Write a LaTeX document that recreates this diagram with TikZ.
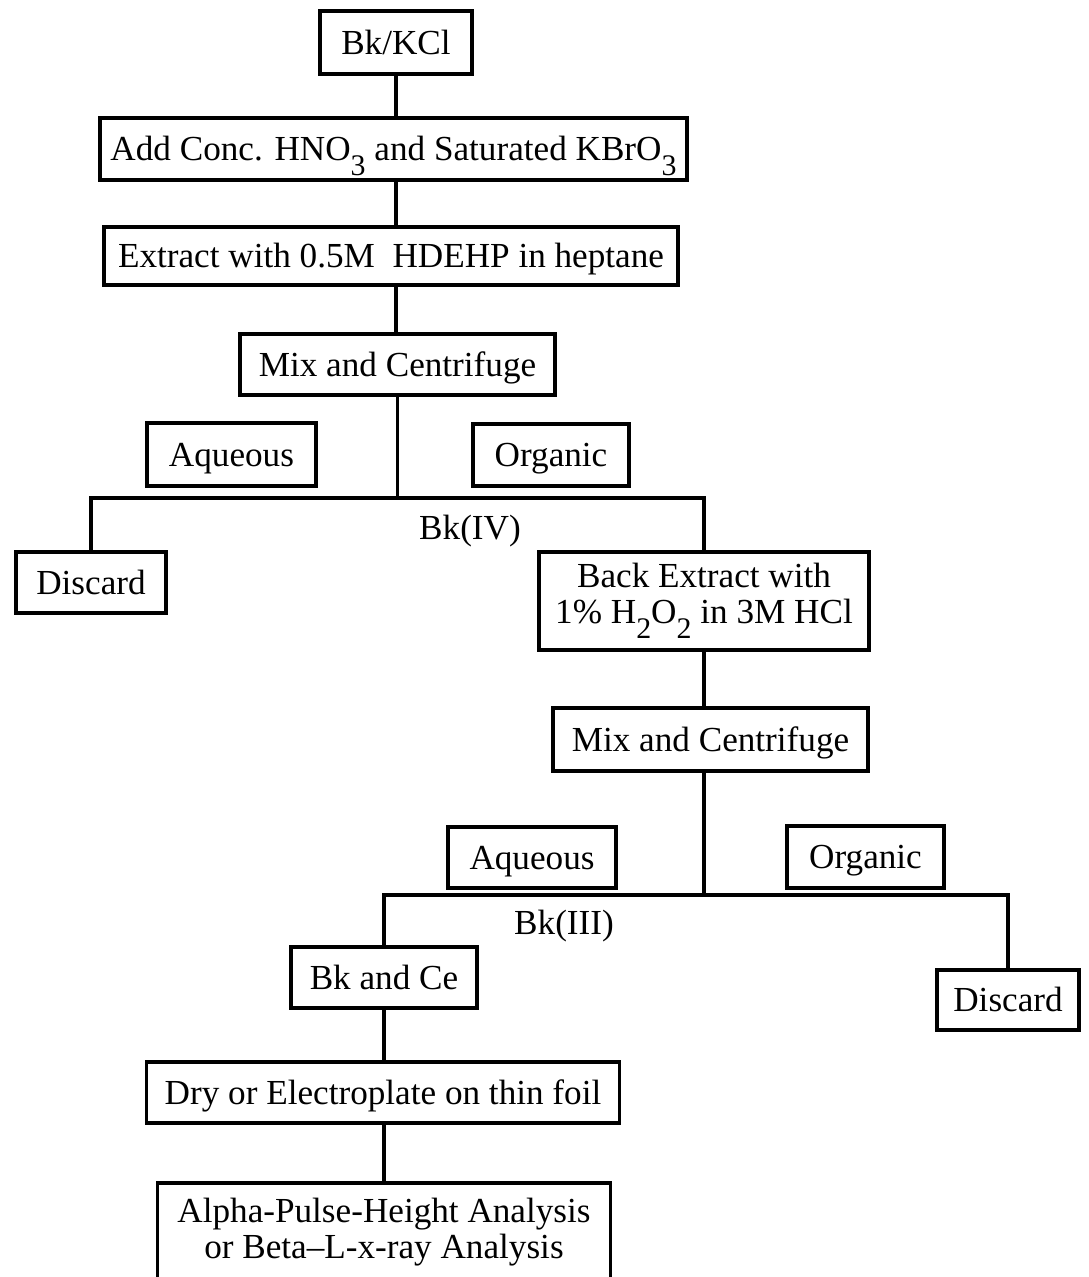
\documentclass[tikz,border=0pt]{standalone}
\usepackage{fontspec}
\setmainfont{Liberation Serif}
\usetikzlibrary{calc}
\newcommand{\lowsub}[1]{\raisebox{-0.9ex}{\fontsize{8.5}{8.5}\selectfont #1}}
\tikzset{
	stagebase/.style={draw, line width=1pt, inner xsep=0pt, inner ysep=0pt, minimum height=0.61cm, font=\fontsize{10}{10.2}\selectfont},
	stage/.style={stagebase, text height=6.8pt, text depth=0pt},
	stagetwo/.style={stagebase, align=center},
	tag/.style={inner sep=0pt, font=\fontsize{10}{10.2}\selectfont},
	link/.style={line width=1pt}
}
\begin{document}
\begin{tikzpicture}[x=0.01cm,y=-0.01cm]
					%\draw[help lines] (0,0) grid (1088,1277);
					\useasboundingbox (0,0) rectangle (1088,1277);
					
					%FIRST EXTRACTION
					\node[stage, minimum width=1.52cm, minimum height=0.63cm] (kcl) at (396,42.5) {Bk/KCl};
					\node[stage, minimum width=5.87cm, minimum height=0.62cm] (addconc) at (393.5,149) {Add Conc. HNO\lowsub{3} and Saturated KBrO\lowsub{3}};
					\node[stage, minimum width=5.74cm, minimum height=0.58cm] (extract) at (391,256) {Extract with 0.5M~ HDEHP in heptane};
					\node[stage, minimum width=3.15cm] (mixa) at (397.5,364.5) {Mix and Centrifuge};
					\node[stage, minimum width=1.69cm, minimum height=0.63cm] (aqa) at (231.5,454.5) {Aqueous};
					\node[stage, minimum width=1.56cm, minimum height=0.62cm] (orga) at (551,455) {Organic};
					\node[tag] (bkiv) at (470,531) {Bk(IV)};
					\node[stage, minimum width=1.5cm] (disca) at (91,582.5) {Discard};
					\node[stagetwo, minimum width=3.3cm, minimum height=0.98cm] (back) at (704,601) {Back Extract with\\1\% H\lowsub{2}O\lowsub{2} in 3M HCl};
					
					%SECOND EXTRACTION
					\node[stage, minimum width=3.15cm, minimum height=0.63cm] (mixb) at (710.5,739.5) {Mix and Centrifuge};
					\node[stage, minimum width=1.68cm] (aqb) at (532,857.5) {Aqueous};
					\node[stage, minimum width=1.57cm, minimum height=0.62cm] (orgb) at (865.5,857) {Organic};
					\node[tag] (bkiii) at (564,926) {Bk(III)};
					\node[stage, minimum width=1.86cm] (bkce) at (384,977.5) {Bk and Ce};
					\node[stage, minimum width=1.42cm, minimum height=0.6cm] (discb) at (1008,1000) {Discard};
					\node[stage, minimum width=4.73cm] (dry) at (383,1092.5) {Dry or Electroplate on thin foil};
					\node[stagetwo, minimum width=4.53cm, minimum height=0.98cm] (alpha) at (384,1232) {Alpha-Pulse-Height Analysis\\or Beta--L-x-ray Analysis};
					
					%CONNECTORS
					\draw[link] (kcl.south) -- (kcl.south |- addconc.north);
					\draw[link] (addconc.south -| kcl.south) -- (kcl.south |- extract.north);
					\draw[link] (extract.south -| kcl.south) -- (kcl.south |- mixa.north);
					\coordinate (splita) at (397.5,498);
					\draw[link] (mixa.south) -- (splita);
					\draw[link] (disca.north) |- (splita) -| (back.north);
					\draw[link] (back.south) -- (back.south |- mixb.north);
					\coordinate (splitb) at (704,895);
					\draw[link] (mixb.south -| back.south) -- (splitb);
					\draw[link] (bkce.north) |- (splitb) -| (discb.north);
					\draw[link] (bkce.south) -- (bkce.south |- dry.north);
					\draw[link] (dry.south -| bkce.south) -- (bkce.south |- alpha.north);
					
\end{tikzpicture}
\end{document}
